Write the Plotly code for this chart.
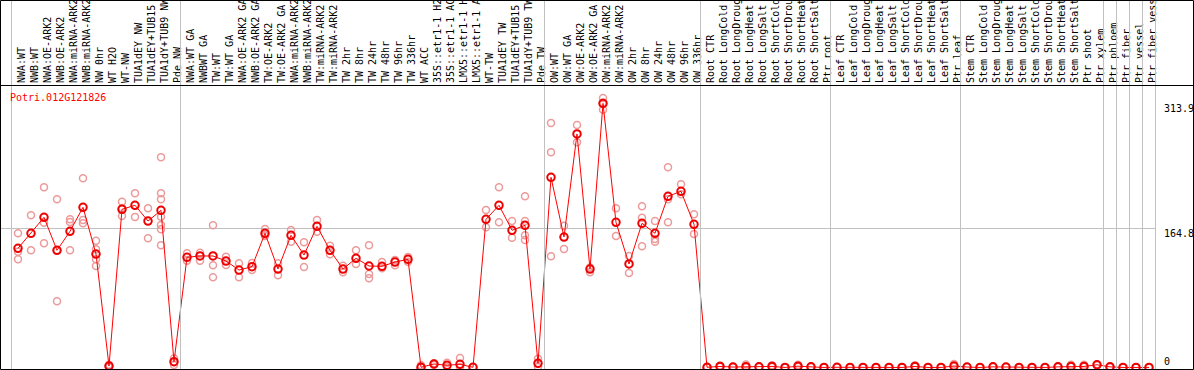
import plotly.graph_objects as go

gene_id = "Potri.012G121826"

samples = [
    "NWA:WT", "NWB:WT", "NWA:OE-ARK2", "NWB:OE-ARK2", "NWA:miRNA-ARK2", "NWB:miRNA-ARK2",
    "NW 0hr", "WT H2O", "WT-NW", "TUA1dEY NW", "TUA1dEY+TUB15", "TUA1dY+TUB9 NW", "Pde NW",
    "NWA:WT GA", "NWBWT GA", "TW:WT", "TW:WT GA", "NWA:OE-ARK2 GA", "NWB:OE-ARK2 GA",
    "TW:OE-ARK2", "TW:OE-ARK2 GA", "NWA:miRNA-ARK2", "NWB:miRNA-ARK2", "TW:miRNA-ARK2",
    "TW:miRNA-ARK2 ", "TW 2hr", "TW 8hr", "TW 24hr", "TW 48hr", "TW 96hr", "TW 336hr",
    "WT ACC", "35S::etr1-1 H2O", "35S::etr1-1 ACC", "LMX5::etr1-1 H2O", "LMX5::etr1-1 ACC",
    "WT-TW", "TUA1dEY TW", "TUA1dEY+TUB15 ", "TUA1dY+TUB9 TW", "Pde TW",
    "OW:WT", "OW:WT GA", "OW:OE-ARK2", "OW:OE-ARK2 GA", "OW:miRNA-ARK2", "OW:miRNA-ARK2 ",
    "OW 2hr", "OW 8hr", "OW 24hr", "OW 48hr", "OW 96hr", "OW 336hr",
    "Root CTR", "Root LongCold", "Root LongDrought", "Root LongHeat", "Root LongSalt",
    "Root ShortCold", "Root ShortDrought", "Root ShortHeat", "Root ShortSalt", "Ptr root",
    "Leaf CTR", "Leaf LongCold", "Leaf LongDrought", "Leaf LongHeat", "Leaf LongSalt",
    "Leaf ShortCold", "Leaf ShortDrought", "Leaf ShortHeat", "Leaf ShortSalt", "Ptr leaf",
    "Stem CTR", "Stem LongCold", "Stem LongDrought", "Stem LongHeat", "Stem LongSalt",
    "Stem ShortCold", "Stem ShortDrought", "Stem ShortHeat", "Stem ShortSalt",
    "Ptr shoot", "Ptr xylem", "Ptr phloem", "Ptr fiber", "Ptr vessel", "Ptr fiber vessel",
]

group_sizes = [13, 28, 12, 10, 10, 11, 1, 1, 1, 1]

means = [
    141.8, 159.6, 178.6, 139.4, 162.0, 190.5, 135.0, 2.0, 188.1, 192.9, 174.2, 186.9, 7.1,
    131.1, 132.7, 132.7, 126.7, 116.0, 120.0, 159.6, 117.2, 157.2, 133.8, 167.9,
    139.4, 117.2, 129.9, 120.8, 120.4, 125.5, 128.7,
    0.5, 4.4, 2.9, 4.0, 0.5,
    176.2, 192.9, 163.2, 169.1, 5.2,
    226.1, 155.2, 277.6, 117.2, 313.9, 172.7, 123.2, 171.5, 159.6, 203.6, 209.5, 170.3,
    0.5, 1.5, 0.8, 1.2, 1.0, 1.5, 0.3, 1.8, 1.0, 0.3,
    0.5, 0.3, 0.3, 0.3, 0.3, 0.3, 1.5, 0.3, 0.3, 2.0,
    0.8, 0.3, 1.0, 0.8, 0.3, 0.3, 0.3, 1.0, 1.5,
    1.5, 3.5, 1.0, 0.3, 0.3, 0.3,
]

replicates = [
    [159.6, 137.8, 128.7], [181.0, 139.4], [214.3, 172.2, 147.7], [200.0, 78.9, 139.4],
    [176.2, 173.0, 139.4], [224.9, 175.4, 171.5], [150.8, 140.6, 128.7, 120.8],
    [0.5, 2.0, 3.5], [197.1, 180.2, 189.7], [207.1, 179.0], [189.3, 153.7],
    [249.9, 207.1, 200.0, 179.3, 169.5, 164.4, 145.4], [11.2, 3.2, 6.8],
    [135.9, 127.1], [136.6, 127.1], [169.1, 121.6, 107.4], [131.8, 122.0],
    [124.0, 107.4], [124.3, 116.0], [164.7, 156.4, 157.6], [124.0, 109.7],
    [163.5, 149.6], [148.9, 119.6], [175.4, 161.5], [144.9, 134.7], [121.1, 113.3],
    [139.4, 123.2], [145.4, 111.3, 106.2], [125.5, 118.1], [127.9, 121.6], [125.9, 131.5],
    [2.9, 0.2], [5.2, 3.2], [5.9, 0.8], [11.5, 0.8], [0.8],
    [187.3, 166.7], [214.3, 172.7], [174.2, 154.4], [203.6, 174.2, 157.2, 151.7], [10.7, 0.8],
    [290.6, 255.8, 132.3], [168.6, 141.0], [288.2, 267.7], [113.3, 119.0],
    [320.2, 306.5, 315.0], [189.3, 156.4], [132.7, 112.5], [191.7, 178.1, 144.2],
    [174.2, 152.9, 149.6], [238.0, 200.0, 172.7], [217.8, 205.9], [182.2, 158.8],
    [0.3, 0.8], [1.2, 2.5], [0.5, 1.2], [0.5, 3.8], [0.8, 1.5], [0.8, 3.0], [0.2, 0.5],
    [1.0, 3.5], [0.8, 1.5], [0.3],
    [0.5], [0.3], [0.3], [0.3], [0.3], [0.3], [1.0, 3.0], [0.3], [0.3], [1.0, 4.5],
    [0.8], [0.3], [0.8, 1.5], [0.8], [0.3], [0.3], [0.3], [0.8, 1.5], [1.0, 3.5],
    [1.0, 3.5], [3.0, 4.0], [0.5, 1.5], [0.3], [0.3], [0.3],
]

y_ticks = [313.9, 164.8, 0]
y_tick_text = ["313.9", "164.8", "0"]

FONT = "DejaVu Sans Mono"
W, H = 1194, 370
ML, MR, MT, MB = 1, 38, 86, 1
PW, PH = W - ML - MR, H - MT - MB
PITCH = 13.0

x_idx = list(range(len(samples)))
rx, ry = [], []
for i, reps in enumerate(replicates):
    for v in reps:
        rx.append(i)
        ry.append(v)

fig = go.Figure()
fig.add_trace(go.Scatter(
    x=rx, y=ry, mode="markers", hoverinfo="skip",
    marker=dict(symbol="circle-open", size=7, color="#ec9a9a", line=dict(width=1.5, color="#ec9a9a")),
))
fig.add_trace(go.Scatter(
    x=x_idx, y=means, mode="lines+markers",
    line=dict(color="#ff0000", width=1),
    marker=dict(symbol="circle-open", size=7.5, color="#ee0000", line=dict(width=2, color="#ee0000")),
))

x0 = -17.0 / PITCH
x1 = x0 + PW / PITCH
scale = 0.842
y0 = -1.3 / scale
y1 = y0 + PH / scale

shapes = []
pos = -0.5
shapes.append(dict(type="line", xref="x", yref="paper", x0=pos, x1=pos, y0=0, y1=H / PH,
                   line=dict(color="#c0c0c0", width=1)))
for g in group_sizes:
    pos += g
    shapes.append(dict(type="line", xref="x", yref="paper", x0=pos, x1=pos, y0=0, y1=H / PH,
                       line=dict(color="#c0c0c0", width=1)))

def px_x(p):
    return (p - ML) / PW

def px_y(p):
    return (H - MB - p) / PH

shapes.append(dict(type="rect", xref="paper", yref="paper",
                   x0=px_x(0.5), x1=px_x(W - 0.5), y0=px_y(H - 0.5), y1=px_y(0.5),
                   line=dict(color="black", width=1)))
shapes.append(dict(type="line", xref="paper", yref="paper",
                   x0=px_x(0.5), x1=px_x(W - 0.5), y0=px_y(85.5), y1=px_y(85.5),
                   line=dict(color="black", width=1)))

annotations = [dict(text=gene_id, xref="paper", yref="paper", x=px_x(8), y=px_y(97),
                    xanchor="left", yanchor="middle", showarrow=False,
                    font=dict(family=FONT, size=10, color="#ff0000"))]
shifts = [-5, -5, 6]
for v, t, s in zip(y_ticks, y_tick_text, shifts):
    annotations.append(dict(text=t, xref="paper", yref="y", x=px_x(1162), y=v, yshift=s,
                            xanchor="left", yanchor="middle", showarrow=False,
                            font=dict(family=FONT, size=10, color="black")))

fig.update_layout(
    width=W, height=H,
    margin=dict(l=ML, r=MR, t=MT, b=MB, pad=0),
    paper_bgcolor="white", plot_bgcolor="white",
    showlegend=False,
    shapes=shapes,
    annotations=annotations,
    xaxis=dict(
        side="top", range=[x0, x1], tickmode="array", tickvals=x_idx, ticktext=samples,
        tickangle=-90, tickfont=dict(family=FONT, size=10, color="black"),
        ticklabelshift=4, ticklabelstandoff=2,
        showgrid=False, zeroline=False, showline=False, ticks="", automargin=False,
    ),
    yaxis=dict(
        range=[y0, y1], tickmode="array", tickvals=[164.8], showticklabels=False,
        showgrid=True, gridcolor="#c0c0c0", gridwidth=1, zeroline=False, showline=False,
        ticks="", automargin=False,
    ),
)

fig.write_html(
    "out.html",
    config={"displayModeBar": False},
    post_script="document.body.style.margin='0';document.body.style.padding='0';document.body.style.overflow='hidden';",
)
